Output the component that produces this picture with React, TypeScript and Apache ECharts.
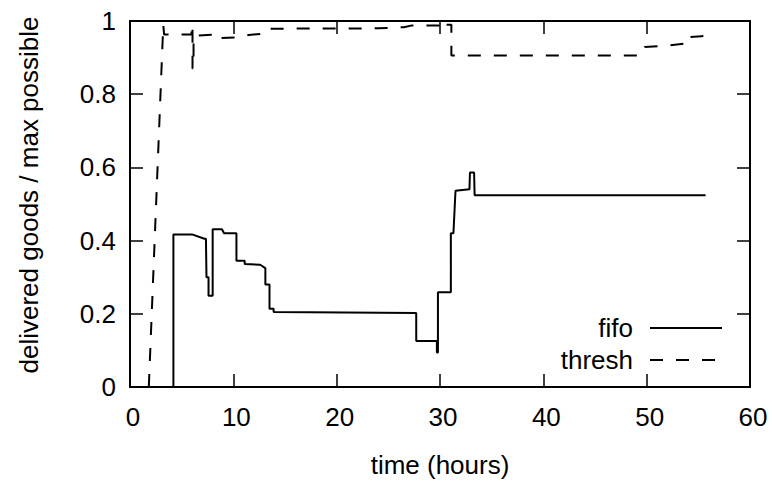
import React, { useEffect, useRef } from "react";
import * as echarts from "echarts";

const xTicks = [0, 10, 20, 30, 40, 50, 60];
const yTicks = [0, 0.2, 0.4, 0.6, 0.8, 1];

const seriesNames = ["fifo", "thresh"];

// fifo: [time (hours), delivered/max]
const fifoX = [4.2, 4.2, 6.0, 7.2, 7.35, 7.4, 7.6, 7.6, 8.0, 8.0, 8.9, 9.1, 10.3, 10.3, 11.1, 11.1, 12.6, 13.1, 13.1, 13.5, 13.5, 13.9, 13.9, 27.7, 27.7, 29.7, 29.7, 29.8, 29.8, 31.05, 31.05, 31.3, 31.5, 32.85, 32.9, 33.3, 33.35, 55.7];
const fifoY = [0, 0.417, 0.417, 0.405, 0.405, 0.30, 0.30, 0.249, 0.249, 0.431, 0.431, 0.42, 0.42, 0.345, 0.345, 0.336, 0.334, 0.325, 0.28, 0.28, 0.214, 0.214, 0.205, 0.202, 0.126, 0.126, 0.094, 0.094, 0.259, 0.259, 0.42, 0.42, 0.536, 0.54, 0.586, 0.586, 0.524, 0.524];

// thresh: [time (hours), delivered/max]
const threshX = [1.82, 3.22, 3.3, 5.95, 5.95, 6.05, 6.05, 6.15, 6.15, 8.5, 8.55, 10.5, 11.5, 13.3, 13.6, 24, 26.5, 27.3, 29.9, 29.9, 30.3, 30.3, 31.1, 31.1, 49.4, 49.6, 49.8, 52, 54.2, 54.2, 55.3, 56.1];
const threshY = [0, 0.99, 0.963, 0.963, 0.99, 0.99, 0.87, 0.87, 0.96, 0.963, 0.953, 0.955, 0.962, 0.966, 0.979, 0.98, 0.983, 0.988, 0.988, 0.997, 0.997, 0.99, 0.99, 0.906, 0.906, 0.915, 0.929, 0.933, 0.94, 0.956, 0.958, 0.965];

const FONT = "'Liberation Sans', Arial, Helvetica, sans-serif";
const FS = 26;

function zip(xs: number[], ys: number[]) {
  return xs.map((x, i) => [x, ys[i]]);
}

export default function App() {
  const ref = useRef<HTMLDivElement>(null);
  useEffect(() => {
    document.body.style.margin = "0";
    if (!ref.current) return;
    const chart = echarts.init(ref.current, undefined, { renderer: "svg" });
    const axisLine = { show: true, onZero: false, lineStyle: { color: "#000", width: 2 } };
    const tick = { show: true, inside: true, length: 13, lineStyle: { color: "#000", width: 1.5 } };
    const xBase = { type: "value" as const, min: xTicks[0], max: xTicks[xTicks.length - 1], interval: xTicks[1] - xTicks[0] };
    const yBase = { type: "value" as const, min: yTicks[0], max: yTicks[yTicks.length - 1], interval: 0.2 };
    chart.setOption({
      animation: false,
      backgroundColor: "#fff",
      textStyle: { fontFamily: FONT },
      grid: { left: 130, right: 22, top: 21, bottom: 98, containLabel: false },
      legend: {
        orient: "vertical",
        align: "right",
        right: 44,
        top: 310,
        itemWidth: 72,
        itemHeight: 14,
        itemGap: 6,
        data: seriesNames,
        itemStyle: { opacity: 0 },
        textStyle: { fontSize: FS, color: "#000", fontFamily: FONT, padding: [0, 12, 0, 0] },
      },
      xAxis: [
        {
          ...xBase,
          position: "bottom",
          name: "time (hours)",
          nameLocation: "middle",
          nameGap: 65,
          nameTextStyle: { fontSize: FS, color: "#000", fontFamily: FONT },
          axisLine,
          axisTick: tick,
          splitLine: { show: false },
          axisLabel: { fontSize: FS, color: "#000", margin: 17, fontFamily: FONT, padding: [0, 0, 0, 6] },
        },
        {
          ...xBase,
          position: "top",
          axisLine,
          axisTick: tick,
          splitLine: { show: false },
          axisLabel: { show: false },
        },
      ],
      yAxis: [
        {
          ...yBase,
          position: "left",
          name: "delivered goods / max possible",
          nameLocation: "middle",
          nameGap: 88,
          nameRotate: 90,
          nameTextStyle: { fontSize: FS, color: "#000", fontFamily: FONT, padding: [0, 0, 0, 18] },
          axisLine,
          axisTick: tick,
          splitLine: { show: false },
          axisLabel: { fontSize: FS, color: "#000", margin: 14, fontFamily: FONT },
        },
        {
          ...yBase,
          position: "right",
          axisLine,
          axisTick: tick,
          splitLine: { show: false },
          axisLabel: { show: false },
        },
      ],
      series: [
        {
          name: seriesNames[0],
          type: "line",
          xAxisIndex: 0,
          yAxisIndex: 0,
          symbol: "none",
          showSymbol: false,
          lineStyle: { color: "#000", width: 2 },
          itemStyle: { color: "#000" },
          data: zip(fifoX, fifoY),
        },
        {
          name: seriesNames[1],
          type: "line",
          xAxisIndex: 0,
          yAxisIndex: 0,
          symbol: "none",
          showSymbol: false,
          lineStyle: { color: "#000", width: 2, type: [13, 13] },
          itemStyle: { color: "#000" },
          data: zip(threshX, threshY),
        },
      ],
    });
    return () => chart.dispose();
  }, []);
  return <div ref={ref} style={{ width: 772, height: 485 }} />;
}
